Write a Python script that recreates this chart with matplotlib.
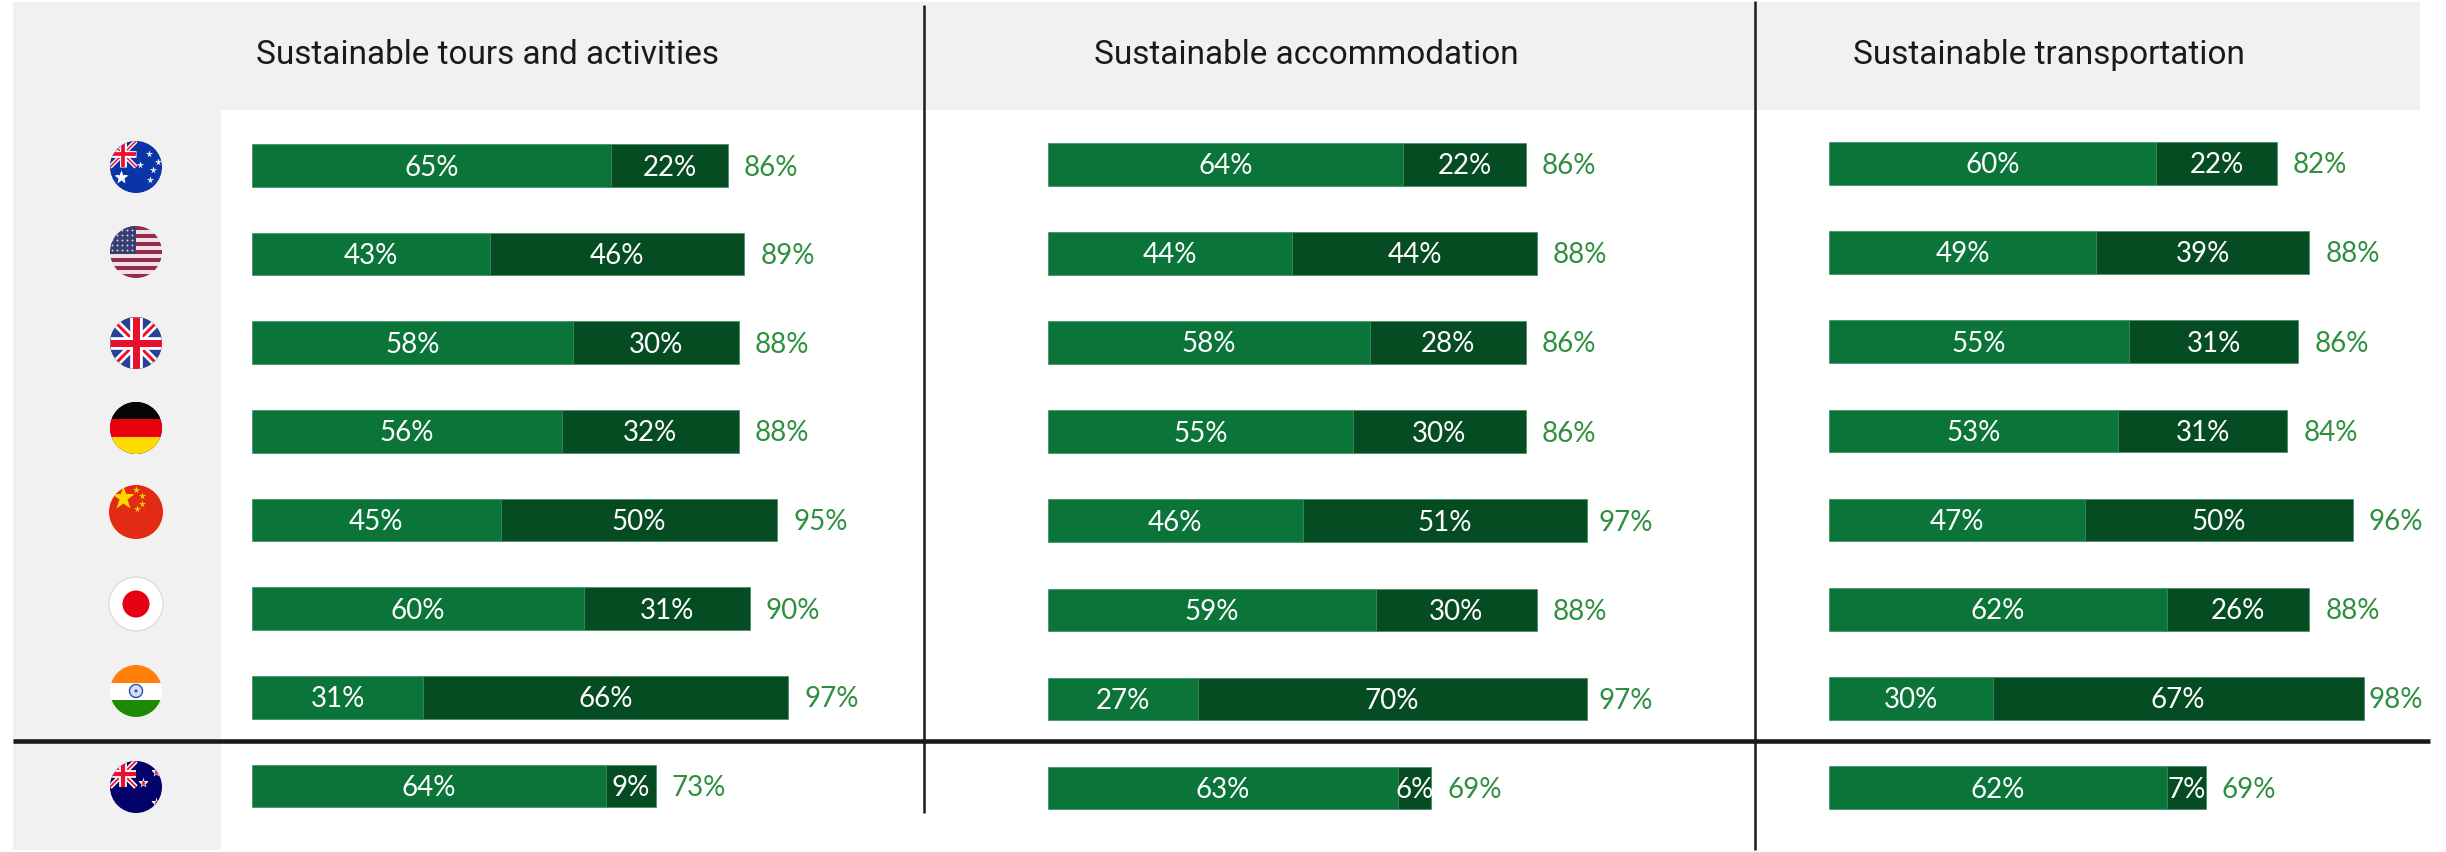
import matplotlib
matplotlib.use("Agg")
import matplotlib.pyplot as plt
from matplotlib.patches import Rectangle, Circle
from matplotlib.lines import Line2D

W, H = 2446, 852

countries = ["Australia", "United States", "United Kingdom", "Germany", "China", "Japan", "India", "New Zealand"]
panel_titles = ["Sustainable tours and activities", "Sustainable accommodation", "Sustainable transportation"]

tours_first = [65, 43, 58, 56, 45, 60, 31, 64]
tours_second = [22, 46, 30, 32, 50, 31, 66, 9]
tours_total = [86, 89, 88, 88, 95, 90, 97, 73]

accom_first = [64, 44, 58, 55, 46, 59, 27, 63]
accom_second = [22, 44, 28, 30, 51, 30, 70, 6]
accom_total = [86, 88, 86, 86, 97, 88, 97, 69]

trans_first = [60, 49, 55, 53, 47, 62, 30, 62]
trans_second = [22, 39, 31, 31, 50, 26, 67, 7]
trans_total = [82, 88, 86, 84, 96, 88, 98, 69]

GREEN = "#0B7539"
DARK = "#064C22"
EDGE = "#3A8A60"
TOTAL = "#2F8F3F"
GREY = "#F1F1F1"
INK = "#1A1A1A"
VALUE_FONT = "Lato"
HEAD_FONT = "Roboto"

fig = plt.figure(figsize=(W / 100, H / 100), dpi=100, facecolor="white")

bg = fig.add_axes([0, 0, 1, 1], zorder=0)
bg.set_xlim(0, W)
bg.set_ylim(H, 0)
bg.axis("off")
bg.add_patch(Rectangle((13, 2), 2407, 108, fc=GREY, ec="none"))
bg.add_patch(Rectangle((13, 2), 208, 848, fc=GREY, ec="none"))

# ---- flags ----
FLAG_X = 136
FLAG_R = 26
flag_y = [167, 252, 343, 428, 512, 604, 691, 787]


def disc(cy, color, edge="none", r=FLAG_R):
    c = Circle((FLAG_X, cy), r, fc=color, ec=edge, lw=1, zorder=2)
    bg.add_patch(c)
    return c


def rect(c, x, y, w, h, color, z=3):
    p = Rectangle((x, y), w, h, fc=color, ec="none", zorder=z)
    bg.add_patch(p)
    p.set_clip_path(c)


def seg(c, x0, y0, x1, y1, color, lw, z=3):
    ln = Line2D([x0, x1], [y0, y1], color=color, lw=lw, zorder=z, solid_capstyle="butt")
    bg.add_line(ln)
    ln.set_clip_path(c)


def stars(c, pts, color, size, marker="*", z=6):
    for (dx, dy) in pts:
        ln, = bg.plot([FLAG_X + dx], [c.center[1] + dy], marker=marker, ms=size, mfc=color,
                      mec="none", zorder=z)
        ln.set_clip_path(c)


def jack(c, x0, y0, x1, y1, blue, scale=1.0):
    rect(c, x0, y0, x1 - x0, y1 - y0, blue, 3)
    mx, my = (x0 + x1) / 2, (y0 + y1) / 2
    seg(c, x0, y0, x1, y1, "white", 4.2 * scale, 4)
    seg(c, x0, y1, x1, y0, "white", 4.2 * scale, 4)
    seg(c, x0, y0, x1, y1, "#E8112D", 1.5 * scale, 4)
    seg(c, x0, y1, x1, y0, "#E8112D", 1.5 * scale, 4)
    seg(c, mx, y0, mx, y1, "white", 6.5 * scale, 5)
    seg(c, x0, my, x1, my, "white", 6.5 * scale, 5)
    seg(c, mx, y0, mx, y1, "#E8112D", 3.6 * scale, 5)
    seg(c, x0, my, x1, my, "#E8112D", 3.6 * scale, 5)


# Australia
c = disc(flag_y[0], "#0A34A8")
jack(c, FLAG_X - 26, flag_y[0] - 26, FLAG_X, flag_y[0], "#0A34A8", 0.75)
stars(c, [(13, -13), (22, -5), (17, 3), (4, -2), (14, 13)], "white", 5.5)
stars(c, [(-15, 10)], "white", 10)

# USA
cy = flag_y[1]
c = disc(cy, "#F6DDE2")
for k in range(7):
    rect(c, FLAG_X - 26, cy - 26 + k * 8.0, 52, 4.0, "#8E2F50")
rect(c, FLAG_X - 26, cy - 26, 26, 28, "#3A3F72", 4)
for row in range(5):
    for col in range(5):
        stars(c, [(-24 + col * 5, -22 + row * 5)], "#E6E6EE", 2.6, ".")

# UK
c = disc(flag_y[2], "#2A3F96")
jack(c, FLAG_X - 26, flag_y[2] - 26, FLAG_X + 26, flag_y[2] + 26, "#2A3F96", 1.4)

# Germany
cy = flag_y[3]
c = disc(cy, "#000000")
rect(c, FLAG_X - 27, cy - 27, 54, 18, "#050505")
rect(c, FLAG_X - 27, cy - 9, 54, 18, "#E8000D")
rect(c, FLAG_X - 27, cy + 9, 54, 18, "#FFDA00")

# China
cy = flag_y[4]
c = disc(cy, "#E12B12", r=27)
stars(c, [(-13, -14)], "#FFD800", 17)
stars(c, [(0, -22), (6, -16), (6, -8), (1, -3)], "#FFD800", 5.5)

# Japan
cy = flag_y[5]
c = disc(cy, "white", "#DDDDDD", r=27)
bg.add_patch(Circle((FLAG_X, cy), 13.5, fc="#E60012", ec="none", zorder=3))

# India
cy = flag_y[6]
c = disc(cy, "white")
rect(c, FLAG_X - 26, cy - 26, 52, 18, "#FF7F0A")
rect(c, FLAG_X - 26, cy + 9, 52, 18, "#1C8A06")
bg.add_patch(Circle((FLAG_X, cy), 6.5, fc="#D8E0F5", ec="#2A4AB0", lw=1, zorder=4))
bg.add_patch(Circle((FLAG_X, cy), 1.5, fc="#2A4AB0", ec="none", zorder=5))

# New Zealand
cy = flag_y[7]
c = disc(cy, "#02026A")
jack(c, FLAG_X - 26, cy - 26, FLAG_X, cy, "#02026A", 0.85)
stars(c, [(20, -15), (7, -4), (20, 16)], "white", 8, z=6)
stars(c, [(20, -15), (7, -4), (20, 16)], "#D01030", 5, z=7)

# ---- bar panels ----
BAR_PX = 42.6
panels = [
    # left px, px per %, first row centre, row step, right limit for total label start
    (252.0, 5.53, 165.5, 88.64, None, tours_first, tours_second, tours_total),
    (1047.5, 5.56, 164.3, 89.1, 1599, accom_first, accom_second, accom_total),
    (1828.8, 5.46, 163.2, 89.2, 2368, trans_first, trans_second, trans_total),
]
title_x = [256, 1094, 1853]

for (x0, sc, y0, step, lim, first, second, total), title, tx in zip(panels, panel_titles, title_x):
    top = y0 - step / 2
    height = step * len(countries)
    ax = fig.add_axes([x0 / W, 1 - (top + height) / H, 100 * sc / W, height / H], zorder=2)
    ax.set_xlim(0, 100)
    ax.set_ylim(len(countries) - 0.5, -0.5)
    ax.axis("off")
    ax.patch.set_alpha(0)
    ys = range(len(countries))
    bh = BAR_PX / step
    # The dark segment runs up to the stated total (parts are rounded independently).
    widths = [t - a for t, a in zip(total, first)]
    ax.barh(ys, first, height=bh, color=GREEN, ec=EDGE, lw=0.5)
    ax.barh(ys, widths, left=first, height=bh, color=DARK, ec=EDGE, lw=0.5)
    for y, a, b, t in zip(ys, first, second, total):
        kw = dict(va="center", fontfamily=VALUE_FONT, fontsize=20, fontweight="normal")
        lab_y = y + 2.0 / step
        ax.text(a / 2, lab_y, f"{a}%", ha="center", color="white", **kw)
        ax.text((a + t) / 2, lab_y, f"{b}%", ha="center", color="white", **kw)
        tot_px = x0 + t * sc + 16
        if lim is not None:
            tot_px = min(tot_px, lim)
        ax.text((tot_px - x0) / sc, lab_y, f"{t}%", ha="left", color=TOTAL, clip_on=False, **kw)
    bg.text(tx, 64, title, ha="left", va="baseline", color=INK, fontfamily=HEAD_FONT, fontsize=24.0)

# ---- rules ----
rules = fig.add_axes([0, 0, 1, 1], zorder=3)
rules.set_xlim(0, W)
rules.set_ylim(H, 0)
rules.axis("off")
rules.patch.set_alpha(0)
rules.plot([923.5, 923.5], [5, 813], color=INK, lw=1.8, solid_capstyle="butt")
rules.plot([1755, 1755], [1, 850], color=INK, lw=1.8, solid_capstyle="butt")
rules.plot([13, 2430], [740.5, 740.5], color=INK, lw=3.3, solid_capstyle="butt")

fig.savefig("out.png", dpi=100, facecolor="white")
